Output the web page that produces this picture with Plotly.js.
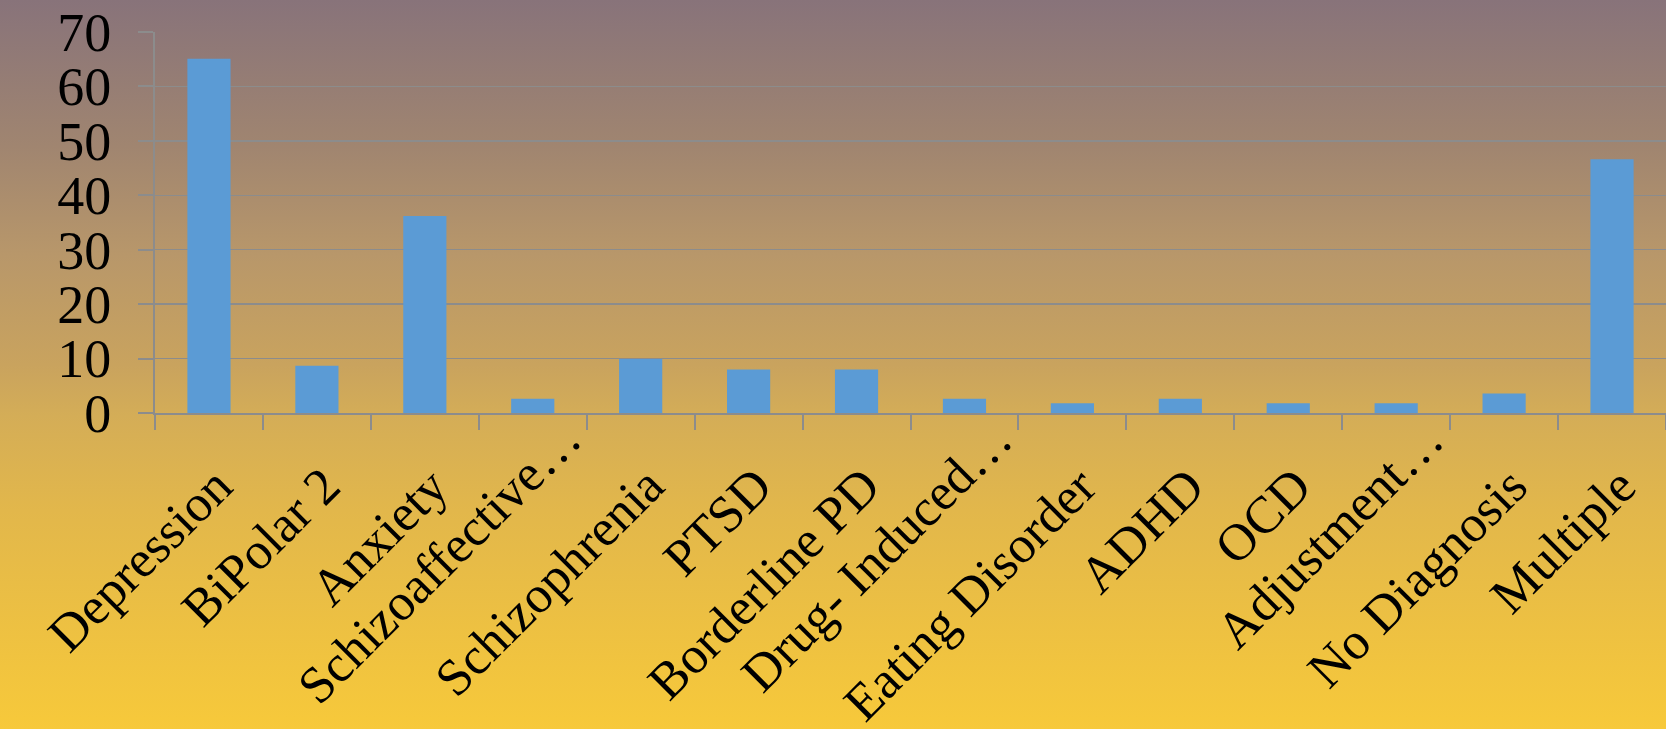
<!DOCTYPE html>
<html>
<head>
<meta charset="utf-8">
<script src="https://cdn.plot.ly/plotly-3.0.1.min.js"></script>
<style>
  html, body { margin: 0; padding: 0; overflow: hidden; }
  body {
    width: 1666px; height: 729px;
    background: linear-gradient(to bottom, #88737a 0%, #a08570 20%, #b8976a 35%, #c9a35e 50%, #d4ad57 57%, #e2b74b 70%, #f7c93a 100%);
  }
  #chart { width: 1666px; height: 729px; }
</style>
</head>
<body>
<div id="chart"></div>
<script>
// Diagnosis categories and their bar heights
const categories = [
  "Depression", "BiPolar 2", "Anxiety", "Schizoaffective…", "Schizophrenia",
  "PTSD", "Borderline PD", "Drug- Induced…", "Eating Disorder", "ADHD",
  "OCD", "Adjustment…", "No Diagnosis", "Multiple"
];
const values = [65.1, 8.7, 36.2, 2.6, 9.9, 8.0, 8.0, 2.6, 1.8, 2.6, 1.8, 1.8, 3.6, 46.6];
const yTicks = [0, 10, 20, 30, 40, 50, 60, 70];

const serif = '"Palatino Linotype", "Book Antiqua", Palatino, "Liberation Serif", serif';
const labelSize = 52;

const trace = {
  type: 'bar',
  x: categories,
  y: values,
  marker: { color: '#5b9bd5', line: { width: 0 } },
  hoverinfo: 'x+y'
};

// Category labels, slanted at 45° and hung from each category's centre.
// Truncated labels (ending in an ellipsis) sit a little higher and let the
// ellipsis run on past the usual end point.
const labelAnnotations = categories.map(function (name) {
  const truncated = name.endsWith('…');
  return {
    x: name,
    y: 0,
    xref: 'x',
    yref: 'y',
    text: name,
    showarrow: false,
    textangle: -45,
    xanchor: 'right',
    yanchor: 'top',
    xshift: truncated ? 61 : 37,
    yshift: truncated ? 6 : -41,
    font: { family: serif, size: labelSize, color: '#000000' }
  };
});

const layout = {
  width: 1666,
  height: 729,
  margin: { l: 155, r: 0, t: 32, b: 316 },
  paper_bgcolor: 'rgba(0,0,0,0)',
  plot_bgcolor: 'rgba(0,0,0,0)',
  bargap: 0.6,
  showlegend: false,
  annotations: labelAnnotations,
  xaxis: {
    type: 'category',
    range: [-0.5, categories.length - 0.5],
    automargin: false,
    showticklabels: false,
    ticks: 'outside',
    tickson: 'boundaries',
    ticklen: 15,
    tickwidth: 2,
    tickcolor: '#8c8c8c',
    showline: true,
    linecolor: '#8c8c8c',
    linewidth: 2,
    showgrid: false,
    zeroline: false
  },
  yaxis: {
    range: [0, 70],
    automargin: false,
    tickvals: yTicks,
    ticktext: yTicks.map(String),
    tickfont: { family: serif, size: 54, color: '#000000' },
    ticks: 'outside',
    ticklen: 15,
    tickwidth: 2,
    tickcolor: '#8c8c8c',
    ticklabelstandoff: 16,
    showline: true,
    linecolor: '#8c8c8c',
    linewidth: 2,
    showgrid: true,
    gridcolor: '#8c8c8c',
    gridwidth: 1.5,
    zeroline: false
  }
};

Plotly.newPlot('chart', [trace], layout, { displayModeBar: false, staticPlot: true });
</script>
</body>
</html>
